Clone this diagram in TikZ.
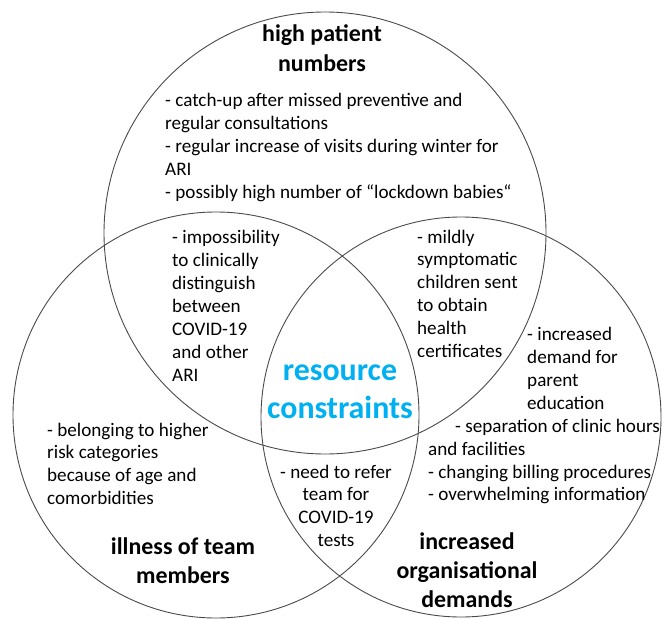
\documentclass[tikz,border=0pt]{standalone}
\usepackage{fontspec}
\setmainfont{Carlito}
\definecolor{rccol}{HTML}{00B0F0}
\definecolor{linecol}{HTML}{4A4A4A}
\begin{document}
\begin{tikzpicture}[x=1bp,y=-1bp,
  circ/.style={circle, draw=linecol, line width=0.9bp, inner sep=0pt, outer sep=0pt},
  body/.style={font=\fontsize{19.2}{22.9}\selectfont, inner sep=0pt, anchor=base west},
  bodyc/.style={font=\fontsize{19.2}{22.9}\selectfont, inner sep=0pt, anchor=base},
  ttl/.style={font=\bfseries\fontsize{24}{29}\selectfont, inner sep=0pt, anchor=base},
  rcs/.style={font=\bfseries\fontsize{32}{38}\selectfont, text=rccol, inner sep=0pt, anchor=base}]
\useasboundingbox (0,0) rectangle (662,619);
\node[circ, minimum size=442bp] (ctop) at (325,233) {};
\node[circ, minimum size=406bp] (cleft) at (216,415) {};
\node[circ, minimum size=400bp] (cright) at (461,417) {};
% titles
\node[ttl] (t1a) at (322,42) {high patient};
\node[ttl] (t1b) at (322,72) {numbers};
\node[ttl] (t2a) at (183,554) {illness of team};
\node[ttl] (t2b) at (183,583) {members};
\node[ttl] (t3a) at (467,549) {increased};
\node[ttl] (t3b) at (467,578) {organisational};
\node[ttl] (t3c) at (467,607) {demands};
\node[rcs] (rc1) at (340,380) {resource};
\node[rcs] (rc2) at (340,418) {constraints};
% top list
\foreach \t [count=\i] in {{- catch-up after missed preventive and},{regular consultations},{- regular increase of visits during winter for},{ARI},{- possibly high number of “lockdown babies“}}
  \node[body] (top\i) at (165,{107+22.8*(\i-1)}) {\t};
% top-left intersection
\foreach \t [count=\i] in {{- impossibility},{to clinically},{distinguish},{between},{COVID-19},{and other},{ARI}}
  \node[body] (tl\i) at (172,{243+23*(\i-1)}) {\t};
% top-right intersection
\foreach \t [count=\i] in {{- mildly},{symptomatic},{children sent},{to obtain},{health},{certificates}}
  \node[body] (tr\i) at (417,{243+22.8*(\i-1)}) {\t};
% right circle
\foreach \t [count=\i] in {{- increased},{demand for},{parent},{education}}
  \node[body] (r\i) at (527,{340+23*(\i-1)}) {\t};
\node[body] (r5) at (455,432) {- separation of clinic hours};
\node[body] (r6) at (428,455) {and facilities};
\node[body] (r7) at (428,478) {- changing billing procedures};
\node[body] (r8) at (428,500) {- overwhelming information};
% left circle
\foreach \t [count=\i] in {{- belonging to higher},{risk categories},{because of age and},{comorbidities}}
  \node[body] (l\i) at (47,{436+22.8*(\i-1)}) {\t};
% bottom centre
\foreach \t [count=\i] in {{- need to refer},{team for},{COVID-19},{tests}}
  \node[bodyc] (b\i) at (336,{478+22.8*(\i-1)}) {\t};
\end{tikzpicture}
\end{document}
